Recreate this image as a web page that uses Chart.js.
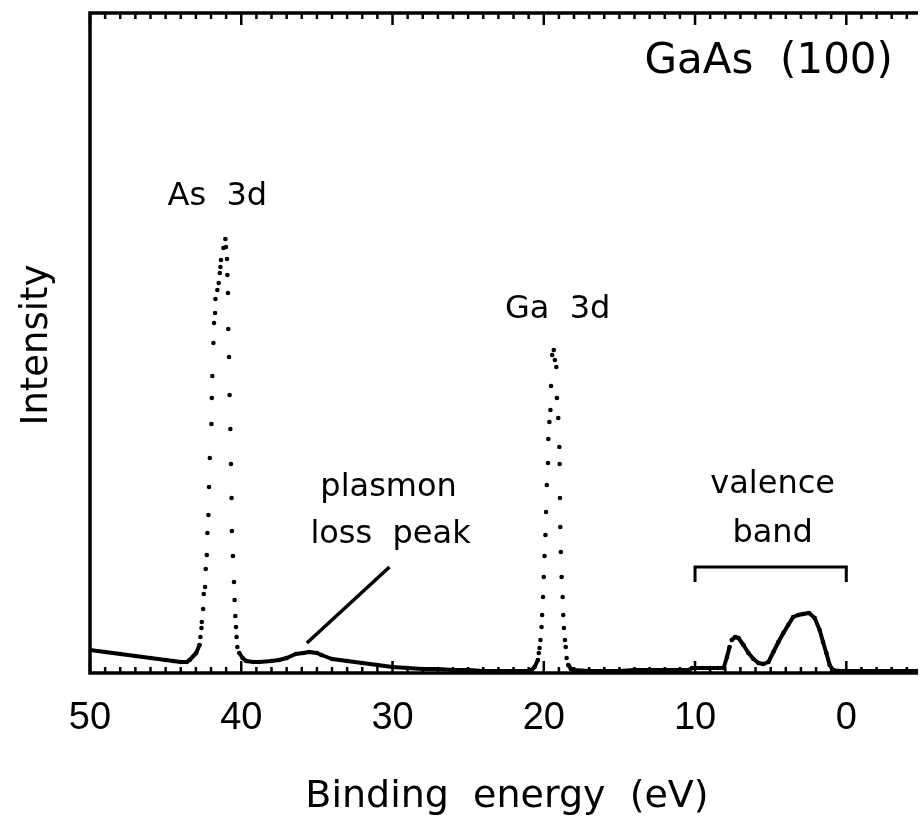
<!DOCTYPE html>
<html>
<head>
<meta charset="utf-8">
<script src="https://cdn.jsdelivr.net/npm/chart.js@4.4.1/dist/chart.umd.min.js"></script>
<style>
  html, body { margin: 0; padding: 0; background: #fff; }
  #wrap { width: 922px; height: 824px; }
</style>
</head>
<body>
<div id="wrap"><canvas id="xpsChart" width="922" height="824"></canvas></div>
<script>
// ==========================================
// DATA
// ==========================================
// binding energy (eV), high to low
const energies = [
  50.0, 49.0, 48.0, 47.0, 46.0, 45.0, 44.5, 44.0, 43.6, 43.42, 42.98, 42.76,
  // As 3d
  42.70, 42.63, 42.61, 42.52, 42.48, 42.39, 42.35, 42.28, 42.24, 42.17, 42.13, 42.08,
  41.97, 41.95, 41.91, 41.84, 41.80, 41.73, 41.71, 41.58, 41.49, 41.42, 41.38, 41.34,
  41.18, 41.05, 41.01, 40.94, 40.92, 40.88, 40.86, 40.81, 40.77, 40.72, 40.68, 40.64,
  40.62, 40.55, 40.48, 40.44, 40.39, 40.35, 40.31, 40.26, 40.13, 39.91, 39.67,
  // plasmon loss region
  39.2, 38.8, 38.0, 37.5, 37.0, 36.4, 35.9, 35.5, 35.0, 34.7, 34.0, 33.0, 32.0,
  31.0, 30.0, 29.0, 28.0, 27.0, 26.0, 25.0, 24.0, 23.0, 22.0, 21.0, 20.8,
  // Ga 3d
  20.61, 20.39, 20.33, 20.28, 20.22, 20.15, 20.11, 20.05, 20.00, 19.95, 19.89, 19.85,
  19.80, 19.72, 19.70, 19.63, 19.56, 19.52, 19.44, 19.34, 19.27, 19.17, 19.13, 19.04,
  18.97, 18.95, 18.93, 18.91, 18.87, 18.82, 18.75, 18.71, 18.67, 18.60, 18.55, 18.49,
  18.38, 18.2, 18.0, 17.0, 16.0, 15.0, 14.0, 13.0, 12.0, 11.0, 10.4, 10.2, 9.5,
  9.0, 8.5,
  // valence band
  8.11, 7.89, 7.72, 7.57, 7.35, 7.13, 6.80, 6.47, 6.14, 5.81, 5.48, 5.15, 4.82,
  4.49, 4.16, 3.84, 3.51, 3.18, 2.85, 2.46, 2.09, 1.76, 1.54, 1.32, 1.10, 0.88,
  0.5, 0.0, -1.0, -2.0, -3.0, -4.0, -4.74
];
const intensity = [
  23, 21, 19, 17, 15, 13, 12, 11, 11, 13, 20, 28,
  36, 45, 51, 64, 79, 86, 104, 118, 140, 158, 186, 215,
  249, 275, 297, 330, 350, 360, 374, 383, 390, 400, 406, 413,
  425, 434, 426, 414, 398, 380, 344, 316, 278, 244, 209, 175,
  142, 117, 91, 73, 57, 46, 36, 26, 20, 15, 12,
  11, 11, 12, 13, 15, 19, 20, 21, 20, 18, 14, 12, 10,
  8, 6, 5, 4, 4, 3, 3, 2, 2, 2, 2, 3,
  6, 13, 20, 25, 33, 46, 58, 76, 96, 117, 138, 161,
  188, 210, 234, 251, 263, 287, 318, 323, 313, 306, 275, 255,
  226, 209, 175, 146, 121, 96, 76, 58, 45, 33, 26, 15,
  8, 4, 3, 2, 2, 2, 3, 3, 3, 3, 3, 5, 5,
  5, 5,
  5, 16, 26, 33, 36, 35, 28, 20, 14, 10, 9, 11, 21,
  31, 40, 48, 56, 58, 59, 60, 55, 43, 31, 20, 8, 3,
  2, 2, 2, 2, 2, 2, 2
];

const tickValues = [50, 40, 30, 20, 10, 0];
const tickLabels = ['50', '40', '30', '20', '10', '0'];
const xTitle = 'Binding  energy  (eV)';
const yTitle = 'Intensity';

// annotations: [text, energy, intensity, font]
const labels = [
  ['GaAs  (100)', 5.13, 600, '42px "DejaVu Sans"'],
  ['As  3d', 41.58, 468, '32px "DejaVu Sans"'],
  ['Ga  3d', 19.08, 355, '32px "DejaVu Sans"'],
  ['plasmon', 30.26, 177, '32px "DejaVu Sans"'],
  ['loss  peak', 30.13, 130, '32px "DejaVu Sans"'],
  ['valence', 4.87, 180, '32px "DejaVu Sans"'],
  ['band', 4.87, 131, '32px "DejaVu Sans"']
];
const pointerLine = [[30.2, 106], [35.66, 30]];
const bracketX = [10, 0];
const bracketY = [106, 91];

const X_MIN = -4.74, X_MAX = 50, Y_MAX = 660;

// ==========================================
// FRAME, TICKS AND TEXT
// ==========================================
const framePlugin = {
  id: 'frame',
  afterDraw(chart) {
    const ctx = chart.ctx;
    const a = chart.chartArea;
    const xs = chart.scales.x, ys = chart.scales.y;
    ctx.save();
    ctx.strokeStyle = '#000';
    ctx.fillStyle = '#000';
    ctx.lineCap = 'butt';

    // axes
    ctx.lineWidth = 3.5;
    ctx.beginPath();
    ctx.moveTo(a.right, a.top);
    ctx.lineTo(a.left, a.top);
    ctx.lineTo(a.left, a.bottom);
    ctx.lineTo(a.right, a.bottom);
    ctx.stroke();

    // inward ticks, every 1 eV, longer ones at the labelled values
    ctx.lineWidth = 2.5;
    for (let v = 50; v >= Math.ceil(X_MIN); v--) {
      const px = xs.getPixelForValue(v);
      const len = tickValues.includes(v) ? 12 : 6;
      ctx.beginPath();
      ctx.moveTo(px, a.bottom);
      ctx.lineTo(px, a.bottom - len);
      ctx.moveTo(px, a.top);
      ctx.lineTo(px, a.top + len);
      ctx.stroke();
    }

    // tick labels
    ctx.font = '38px "Liberation Sans"';
    ctx.textAlign = 'center';
    ctx.textBaseline = 'alphabetic';
    tickValues.forEach((v, i) => {
      ctx.fillText(tickLabels[i], xs.getPixelForValue(v), a.bottom + 56);
    });

    // axis titles
    ctx.font = '38px "DejaVu Sans"';
    ctx.fillText(xTitle, 507, 807);
    ctx.save();
    ctx.translate(47, 345);
    ctx.rotate(-Math.PI / 2);
    ctx.font = '37px "DejaVu Sans"';
    ctx.fillText(yTitle, 0, 0);
    ctx.restore();

    // annotations
    labels.forEach(([t, x, y, f]) => {
      ctx.font = f;
      ctx.fillText(t, xs.getPixelForValue(x), ys.getPixelForValue(y));
    });

    // plasmon pointer
    ctx.lineWidth = 3.5;
    ctx.beginPath();
    ctx.moveTo(xs.getPixelForValue(pointerLine[0][0]), ys.getPixelForValue(pointerLine[0][1]));
    ctx.lineTo(xs.getPixelForValue(pointerLine[1][0]), ys.getPixelForValue(pointerLine[1][1]));
    ctx.stroke();

    // valence band bracket
    ctx.lineWidth = 3;
    ctx.beginPath();
    ctx.moveTo(xs.getPixelForValue(bracketX[0]), ys.getPixelForValue(bracketY[1]));
    ctx.lineTo(xs.getPixelForValue(bracketX[0]), ys.getPixelForValue(bracketY[0]));
    ctx.lineTo(xs.getPixelForValue(bracketX[1]), ys.getPixelForValue(bracketY[0]));
    ctx.lineTo(xs.getPixelForValue(bracketX[1]), ys.getPixelForValue(bracketY[1]));
    ctx.stroke();
    ctx.restore();
  }
};

// join neighbouring points only where they are close sideways (dense baseline),
// keep the steep peak flanks as separate dots
function segColor(c) {
  const dx = Math.abs(c.p1.x - c.p0.x);
  const dy = Math.abs(c.p1.y - c.p0.y);
  return (dx >= 2.5 || dy < 5) ? '#000' : 'rgba(0,0,0,0)';
}

new Chart(document.getElementById('xpsChart'), {
  type: 'scatter',
  data: {
    datasets: [{
      data: energies.map((e, i) => ({ x: e, y: intensity[i] })),
      showLine: true,
      borderColor: '#000',
      borderWidth: 4,
      borderJoinStyle: 'round',
      borderCapStyle: 'round',
      pointRadius: 2.3,
      pointBorderWidth: 0,
      pointBackgroundColor: '#000',
      segment: { borderColor: segColor }
    }]
  },
  options: {
    responsive: false,
    animation: false,
    devicePixelRatio: 1,
    layout: { padding: { left: 90, top: 13, right: 0, bottom: 151 } },
    scales: {
      x: { type: 'linear', min: X_MIN, max: X_MAX, reverse: true, display: false },
      y: { type: 'linear', min: 0, max: Y_MAX, display: false }
    },
    plugins: { legend: { display: false }, tooltip: { enabled: false } }
  },
  plugins: [framePlugin]
});
</script>
</body>
</html>
